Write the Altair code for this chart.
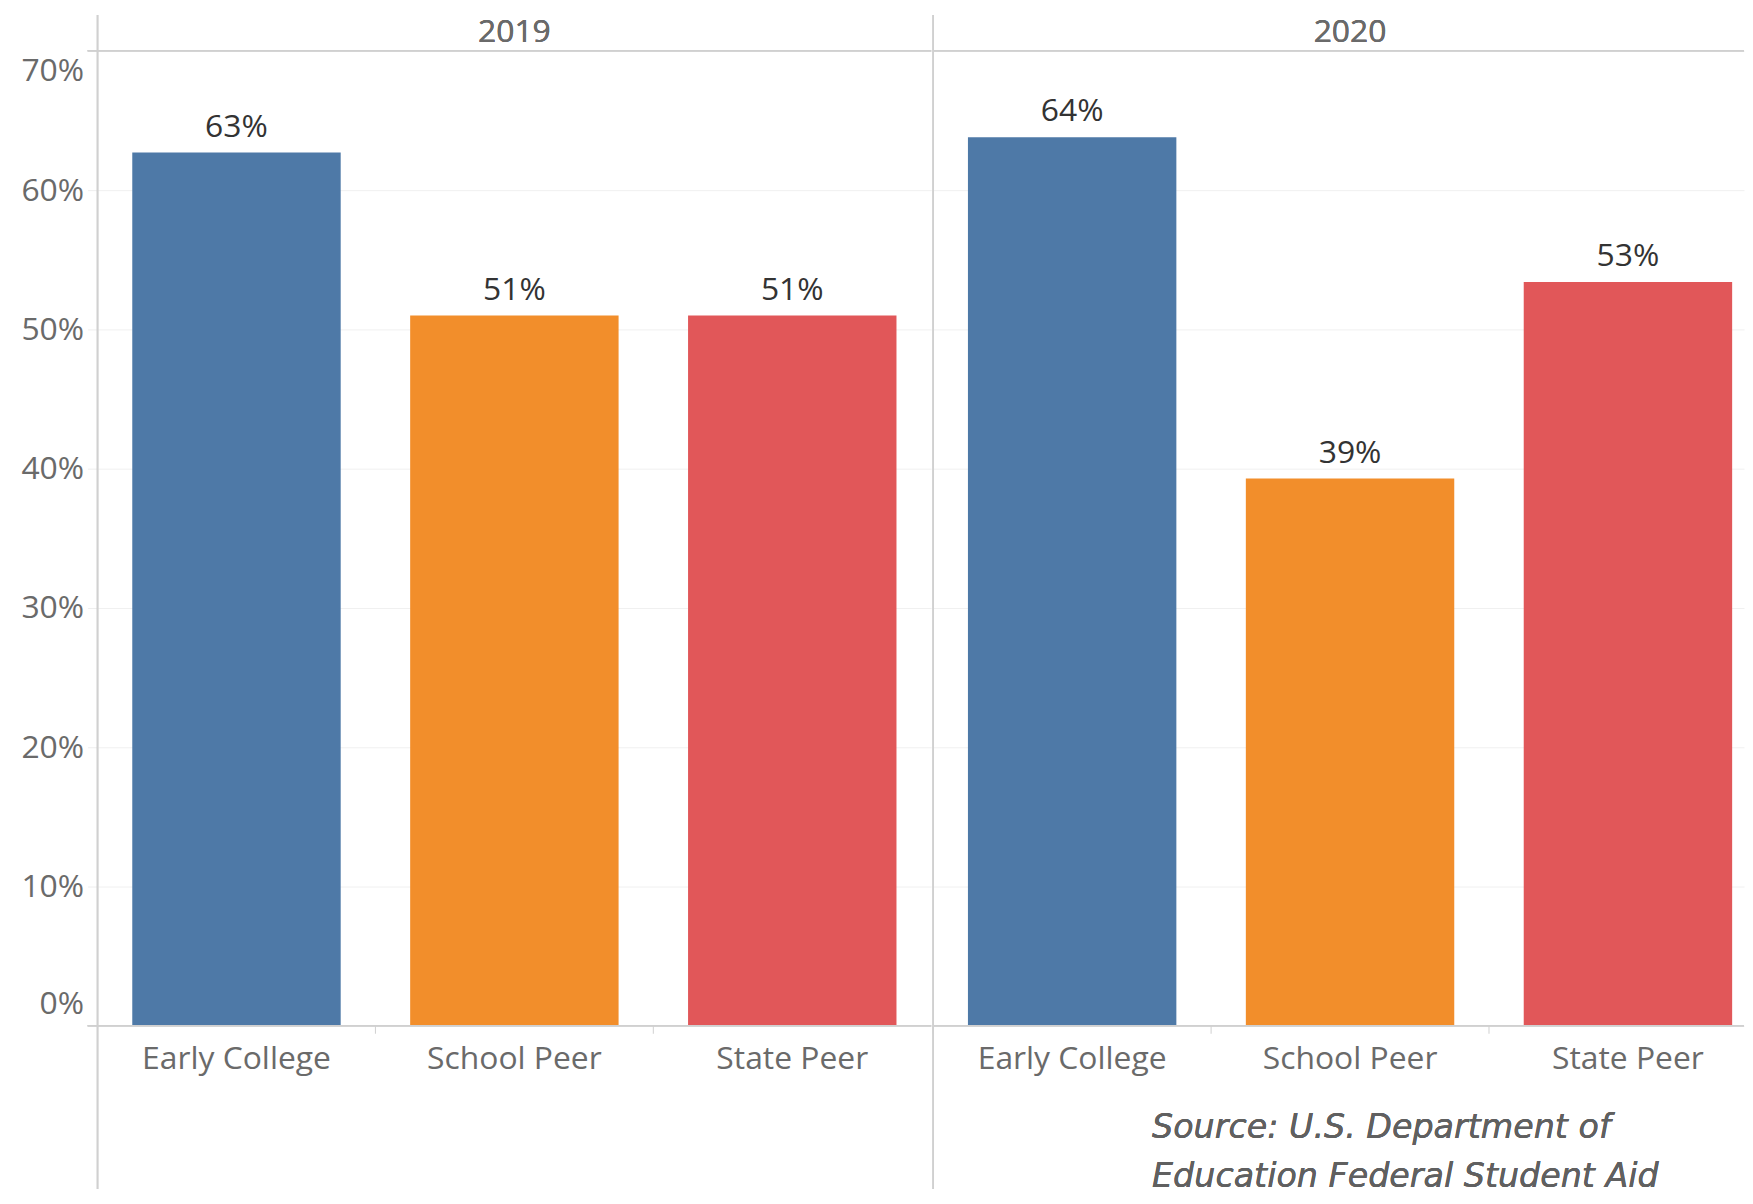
import altair as alt
import pandas as pd

# ---- data ----
years = ["2019", "2019", "2019", "2020", "2020", "2020"]
groups = ["Early College", "School Peer", "State Peer", "Early College", "School Peer", "State Peer"]
values = [0.627, 0.510, 0.510, 0.638, 0.393, 0.534]
group_order = ["Early College", "School Peer", "State Peer"]
group_colors = ["#4E79A7", "#F28E2B", "#E15759"]
y_ticks = [0, 0.1, 0.2, 0.3, 0.4, 0.5, 0.6, 0.7]
source_lines = ["Source: U.S. Department of", "Education Federal Student Aid"]

df = pd.DataFrame({"year": years, "group": groups, "value": values})

FONT = "Open Sans"
FS = 32
H = 980
W1 = 838
W2 = 815
STEP = W1 / 3.0
PI = 0.25
PO2 = (W2 / STEP - (3 - PI)) / 2.0
ALIGN2 = (0.125 * STEP) / (2 * PO2 * STEP)
LINE_C = "#d0d0d0"
TOP = -36
BOTTOM = 1144


def panel(year, width, x_scale, first):
    d = df[df["year"] == year]
    base = alt.Chart(d)
    x_axis = alt.Axis(title=None, labelAngle=0, labelFontSize=FS, labelFont=FONT,
                      labelColor="#6a6a6a", ticks=False, domain=False, labelPadding=18,
                      labelLimit=400)
    x = alt.X("group:N", sort=group_order, scale=x_scale, axis=x_axis)
    if first:
        y_axis = alt.Axis(values=y_ticks, format=".0%", title=None, labelFontSize=FS,
                          labelFont=FONT, labelColor="#6a6a6a", labelFlush=True,
                          labelFlushOffset=-5,
                          labelPadding=4, tickSize=10, tickColor="#eeeeee", domain=False,
                          grid=True, gridColor="#f0f0f0", minExtent=90, maxExtent=90)
    else:
        y_axis = alt.Axis(values=y_ticks, title=None, labels=False, ticks=False,
                          domain=False, grid=True, gridColor="#f0f0f0",
                          minExtent=0, maxExtent=0)
    y = alt.Y("value:Q", scale=alt.Scale(domain=[0, 0.7], nice=False), axis=y_axis)

    bars = base.mark_bar().encode(
        x=x, y=y,
        color=alt.Color("group:N", scale=alt.Scale(domain=group_order, range=group_colors), legend=None),
    )
    labels = base.mark_text(dy=-26, baseline="middle", fontSize=FS, font=FONT, color="#333333").encode(
        x=alt.X("group:N", sort=group_order, scale=x_scale),
        y=alt.Y("value:Q"),
        text=alt.Text("value:Q", format=".0%"),
    )
    ticks = base.mark_rule(color=LINE_C, xOffset=-PI * STEP / 2).encode(
        x=alt.X("group:N", sort=group_order, scale=x_scale, bandPosition=0),
        y=alt.value(H), y2=alt.value(H + 8),
    )
    header = base.mark_text(baseline="middle", fontSize=FS, font=FONT, color="#6a6a6a").encode(
        x=alt.value(1.5 * STEP), y=alt.value(-19), text=alt.value(year)
    )
    vline = base.mark_rule(color=LINE_C, strokeWidth=1.5).encode(
        x=alt.value(0), y=alt.value(TOP), y2=alt.value(BOTTOM)
    )
    top_line = base.mark_rule(color=LINE_C, strokeWidth=1.5).encode(
        x=alt.value(-10 if first else 0), x2=alt.value(width), y=alt.value(0)
    )
    base_line = base.mark_rule(color=LINE_C, strokeWidth=1.5).encode(
        x=alt.value(-10 if first else 0), x2=alt.value(width), y=alt.value(H)
    )
    layers = [bars, labels, ticks, header, vline, top_line, base_line]
    if not first:
        src = base.mark_text(align="left", baseline="middle", fontSize=33.5, font="DejaVu Sans",
                             fontStyle="italic", color="#606060", lineHeight=49).encode(
            x=alt.value(220), y=alt.value(1083), text=alt.value(source_lines)
        )
        layers.append(src)
    return alt.layer(*layers).properties(width=width, height=H)


p1 = panel("2019", W1, alt.Scale(paddingInner=PI, paddingOuter=0.125), True)
p2 = panel("2020", W2, alt.Scale(paddingInner=PI, paddingOuter=PO2, align=ALIGN2), False)

chart = (
    alt.hconcat(p1, p2, spacing=0)
    .resolve_scale(x="independent")
    .properties(padding={"left": 0, "top": 3, "right": 0, "bottom": 0}, background="white")
    .configure_view(stroke=None)
)

chart.save("out.html", embed_options={"renderer": "svg", "actions": False})
